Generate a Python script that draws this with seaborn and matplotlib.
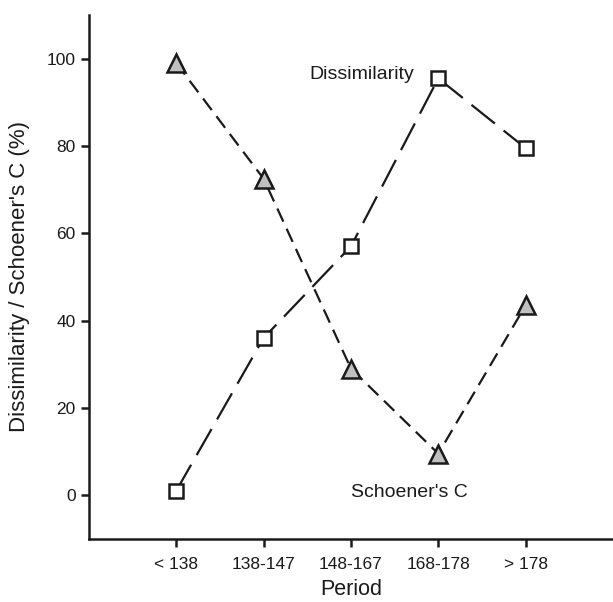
import pandas as pd
import seaborn as sns
import matplotlib.pyplot as plt

# Data
periods = ["< 138", "138-147", "148-167", "168-178", "> 178"]
dissimilarity = [1, 36, 57, 95.5, 79.5]
schoener_c = [99, 72.5, 29, 9.5, 43.5]

df = pd.DataFrame({"Period": periods, "Dissimilarity": dissimilarity, "Schoener": schoener_c})

sns.set_style("ticks")
plt.rcParams['font.family'] = ['Liberation Sans', 'DejaVu Sans']

fig = plt.figure(figsize=(6.13, 6.02), dpi=100)
ax = fig.add_axes([0.145, 0.105, 0.855, 0.87])

# Dissimilarity: open squares, long dashes
sns.lineplot(data=df, x="Period", y="Dissimilarity", sort=False, ax=ax,
             color="#1a1a1a", lw=1.6, linestyle=(0, (13.5, 5)),
             marker="s", ms=10.5, mfc="white", mec="#1a1a1a", mew=1.8, zorder=3)

# Schoener's C: grey triangles, shorter dashes
sns.lineplot(data=df, x="Period", y="Schoener", sort=False, ax=ax,
             color="#1a1a1a", lw=1.6, linestyle=(0, (6.5, 3.5)),
             marker="^", ms=13, mfc="#c0c0c0", mec="#1a1a1a", mew=1.8, zorder=3)

ax.text(2.72, 96.3, "Dissimilarity", ha="right", va="center", fontsize=14, color="#1a1a1a")
ax.text(2.0, 0.5, "Schoener's C", ha="left", va="center", fontsize=14, color="#1a1a1a")

ax.set_xlim(-1, 5)
ax.set_ylim(-10, 110)
ax.set_yticks([0, 20, 40, 60, 80, 100])
ax.set_xlabel("Period", fontsize=15.5, color="#1a1a1a", labelpad=5)
ax.set_ylabel("Dissimilarity / Schoener's C (%)", fontsize=16, color="#1a1a1a", labelpad=12)
ax.tick_params(axis="both", labelsize=12.5, width=1.8, length=6, color="#1a1a1a", labelcolor="#1a1a1a")
ax.tick_params(axis="x", pad=7)

sns.despine(ax=ax)
for side in ["left", "bottom"]:
    ax.spines[side].set_linewidth(1.8)
    ax.spines[side].set_color("#1a1a1a")

fig.savefig("out.png", dpi=100)
